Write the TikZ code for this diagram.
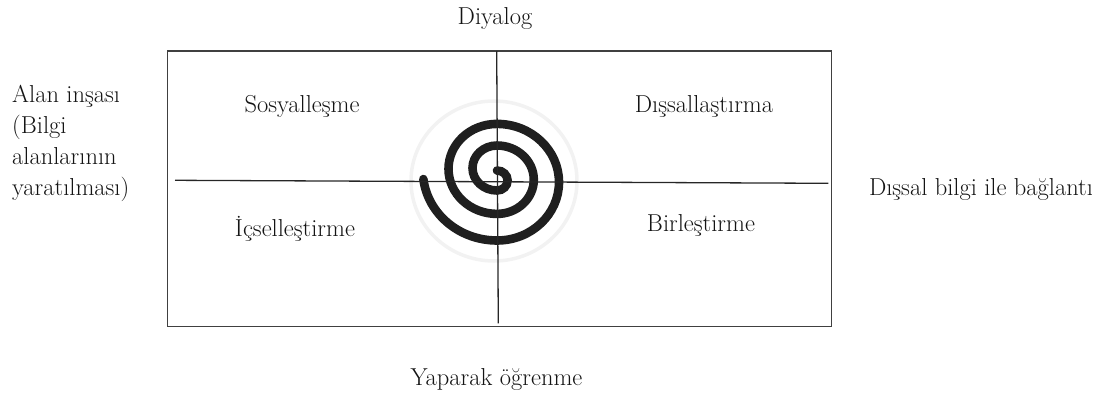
\documentclass[tikz,border=0pt]{standalone}
\usepackage{fontspec}
\begin{document}
\begin{tikzpicture}[x=1pt,y=-1pt,
  lbl/.style={font=\fontsize{24.5}{31}\selectfont, inner sep=0pt, text=black!92},
  frame/.style={draw=black!75, line width=1.4pt},
  axisline/.style={draw=black!85, line width=1.3pt},
  halo/.style={draw=black!5, line width=3.5pt},
  spiralstroke/.style={draw=black!88, line width=8.6pt, line cap=round}]
\useasboundingbox (0,0) rectangle (1112,396);

% frame
\coordinate (fTL) at (167.3,51);
\coordinate (fBR) at (831.7,326.7);
\draw[frame] (fTL) rectangle (fBR);

% halo behind spiral
\coordinate (hc) at (494,181);
\draw[halo] (hc) ellipse [x radius=83, y radius=80];

% spiral (semicircles with shifting centres)
\coordinate (sp0) at (497,170.5);
\draw[spiralstroke] (sp0)
  arc[start angle=-90, end angle=90, x radius=10.6, y radius=10]
  arc[start angle=90, end angle=270, x radius=24.5, y radius=22.5]
  arc[start angle=-90, end angle=90, x radius=36.8, y radius=34.2]
  arc[start angle=90, end angle=270, x radius=48.5, y radius=45]
  arc[start angle=-90, end angle=90, x radius=62, y radius=58.3]
  arc[start angle=90, end angle=173, x radius=74.2, y radius=70];

% axes
\coordinate (hL) at (175,180.3);
\coordinate (hR) at (828.3,183.3);
\coordinate (vT) at (496.7,51);
\coordinate (vB) at (498.3,323.3);
\draw[axisline] (hL) -- (hR);
\draw[axisline] (vT) -- (vB);

% labels
\node[lbl, anchor=base] (dia) at (495,25) {Diyalog};
\node[lbl, anchor=base] (yap) at (496.5,385) {Yaparak öğrenme};
\node[lbl, anchor=base] (dis) at (981,195) {Dışsal bilgi ile bağlantı};
\node[lbl, anchor=north west, align=left] (alan) at (12,85)
  {Alan inşası\\(Bilgi\\alanlarının\\yaratılması)};

\node[lbl, anchor=base] (sos) at (302,113) {Sosyalleşme};
\node[lbl, anchor=base] (dsl) at (704,113) {Dışsallaştırma};
\node[lbl, anchor=base] (ics) at (295,236.7) {İçselleştirme};
\node[lbl, anchor=base] (bir) at (701,231.7) {Birleştirme};
\end{tikzpicture}
\end{document}
